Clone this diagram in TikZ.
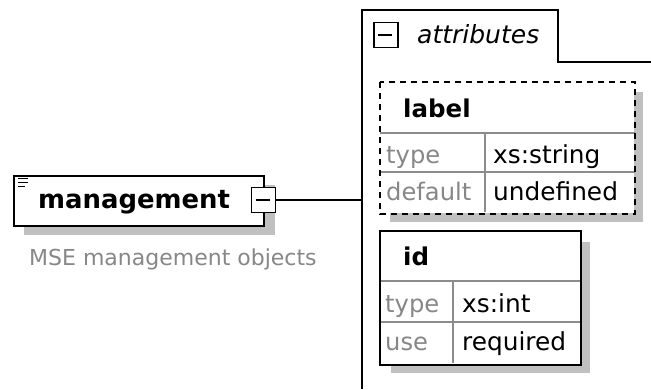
\documentclass[tikz,border=0pt]{standalone}
\usepackage{fontspec}
\setmainfont{DejaVu Sans}
\definecolor{shadowgray}{RGB}{192,192,192}
\definecolor{labelgray}{RGB}{135,135,135}
\definecolor{rulegray}{RGB}{140,140,140}
\newcommand\fs[1]{\fontsize{#1}{#1}\selectfont}
\begin{document}
\begin{tikzpicture}[x=1pt,y=-1pt,
  box/.style={draw=black,line width=2pt,fill=white,inner sep=0pt,anchor=north west},
  shadowbox/.style={fill=shadowgray,draw=none},
  minusbox/.style={draw=black,line width=1.6pt,fill=white,inner sep=0pt,minimum width=24pt,minimum height=25pt},
  rowline/.style={draw=rulegray,line width=1.5pt},
  val/.style={anchor=base west,inner sep=0pt,font=\fs{24.8}},
  key/.style={anchor=base west,inner sep=0pt,font=\fs{24.2},text=labelgray},
  title/.style={anchor=base west,inner sep=0pt,font=\bfseries\fs{24.5}},
  conn/.style={draw=black,line width=2pt}]
\useasboundingbox (0,0) rectangle (651,389);
\fill[white] (0,0) rectangle (651,389);

% ---- management element ----
\fill[shadowgray] (24,185) rectangle (275,235);
\node[box,minimum width=250pt,minimum height=50pt] (mgmt) at (13,175) {};
\draw[line width=1.4pt] (18,178.5) -- (28,178.5) (18,182.5) -- (28,182.5) (18,186.5) -- (25,186.5);
\node[anchor=base west,inner sep=0pt,font=\bfseries\fs{25.9}] (mgmtname) at (38,208) {management};
\node[minusbox] (mgmtminus) at (263.5,200) {};
\draw[line width=1.6pt] (mgmtminus.west) ++(5,0) -- ++(14,0);
\node[anchor=base west,inner sep=0pt,font=\fs{22},text=labelgray] (mgmtdoc) at (29,265) {MSE management objects};

% ---- attributes group ----
\coordinate (bus) at (362,200);
\draw[conn] (mgmtminus.east) -- (bus);
\draw[conn] (362,389) -- (362,10) -- (558,10) -- (558,62) -- (651,62);
\node[minusbox] (attrminus) at (386,35) {};
\draw[line width=1.6pt] (attrminus.west) ++(5,0) -- ++(14,0);
\node[anchor=base west,inner sep=0pt,font=\itshape\fs{25}] (attrtitle) at (417,43) {attributes};

% ---- label attribute ----
\fill[shadowgray] (390,92) rectangle (643,222);
\node[box,draw=none,minimum width=253pt,minimum height=130pt] (labelbox) at (380,82) {};
\draw[rowline] (labelbox.west |- 0,133) -- (labelbox.east |- 0,133);
\draw[rowline] (labelbox.west |- 0,172) -- (labelbox.east |- 0,172);
\draw[rowline] (485,133) -- (485,212);
\draw[dash pattern=on 6pt off 5pt,line width=2pt] (labelbox.north west) rectangle (labelbox.south east);
\node[title] (labelname) at (403,117) {label};
\node[key] (labeltypek) at (386,163) {type};
\node[val] (labeltypev) at (493,163) {xs:string};
\node[key] (labeldefk) at (386,200) {default};
\node[val] (labeldefv) at (493,200) {undefined};

% ---- id attribute ----
\fill[shadowgray] (391,242) rectangle (590,373);
\node[box,draw=none,minimum width=199pt,minimum height=132pt] (idbox) at (380,231) {};
\draw[rowline] (idbox.west |- 0,281) -- (idbox.east |- 0,281);
\draw[rowline] (idbox.west |- 0,322) -- (idbox.east |- 0,322);
\draw[rowline] (453,281) -- (453,363);
\draw[line width=2pt] (idbox.north west) rectangle (idbox.south east);
\node[title] (idname) at (403,265) {id};
\node[key] (idtypek) at (385,312) {type};
\node[val] (idtypev) at (462,312) {xs:int};
\node[key] (idusek) at (385,350) {use};
\node[val] (idusev) at (462,350) {required};
\end{tikzpicture}
\end{document}
